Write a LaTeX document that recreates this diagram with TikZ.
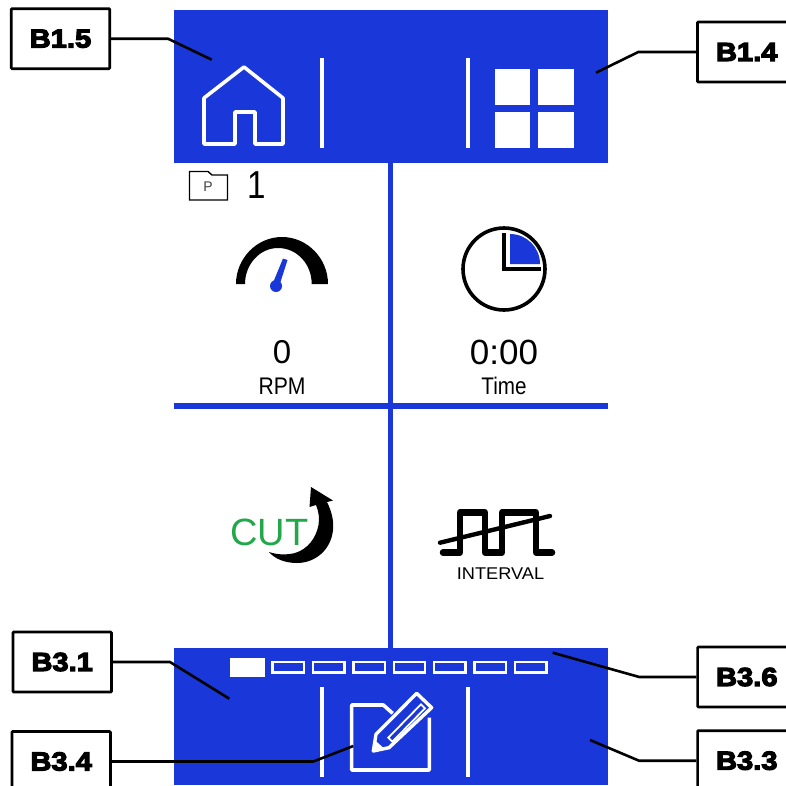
\documentclass[tikz,border=0pt]{standalone}
\usepackage{fontspec}
\setmainfont{Liberation Sans}
\newfontface\labfont[FakeBold=4.5,FakeStretch=1.12]{Liberation Sans Bold}
\definecolor{panelblue}{HTML}{1A37D9}
\definecolor{cutgreen}{HTML}{22A84A}
\newcommand{\fs}[1]{\fontsize{#1}{#1}\selectfont}
\tikzset{
  callout/.style={draw=black,fill=white,line width=2.6pt,minimum width=98.5pt,minimum height=60pt,inner sep=0pt,font=\labfont\fs{26},rounded corners=0.8pt},
  leader/.style={draw=black,line width=2.6pt,line join=round},
  divider/.style={draw=white,line width=3.2pt},
  iconline/.style={draw=white,line width=3.6pt,line join=round},
  slot/.style={draw=white,line width=2.4pt,line join=miter},
  txt/.style={inner sep=0pt,text=black},
}
\begin{document}
\begin{tikzpicture}[x=1pt,y=-1pt]
\useasboundingbox (0,0) rectangle (786,785);
\clip (0,0) rectangle (786,785);
\fill[white] (0,0) rectangle (786,785);
% grid lines
\fill[panelblue] (388.2,163) rectangle (393.2,649);
\fill[panelblue] (174,403.4) rectangle (608,408.8);
% panels
\fill[panelblue] (174,10) rectangle (608,162.8);
\fill[panelblue] (174,648.3) rectangle (608,785);
% top icons
\draw[iconline] (244,67) -- (283,98) -- (283,144) -- (255,144) -- (255,112) -- (235,112) -- (235,144) -- (204,144) -- (204,98) -- cycle;
\draw[divider] (322,58) -- (322,147.5);
\draw[divider] (468,58) -- (468,147.5);
\fill[white] (495,69) rectangle (530.3,105);
\fill[white] (538.3,69) rectangle (574,105);
\fill[white] (495,112) rectangle (530.3,148);
\fill[white] (538.3,112) rectangle (574,148);
% folder
\draw[black,line width=1.4pt,line join=miter] (189.5,171.5) -- (208,171.5) -- (212,175) -- (227.5,175) -- (227.5,200) -- (189.5,200) -- cycle;
\node[txt,font=\fs{14},text=black!75] (ptag) at (208,186.5) {P};
\node[txt,font=\fs{39},xscale=.85] (prognum) at (256.5,185.5) {1};
% gauge
\fill[black] (236,284) .. controls (236,258.6) and (256.6,237) .. (282,237) .. controls (307.4,237) and (328,258.6) .. (328,284) -- (311.7,284) .. controls (311.7,264) and (297,248) .. (278,248) .. controls (260,248) and (245,264) .. (245,284) -- cycle;
\fill[panelblue] (283,258.5) -- (287.5,260) -- (279.5,285) -- (272.5,284) -- cycle;
\fill[panelblue] (276,286) circle[radius=6pt];
\node[txt,font=\fs{33}] (rpmval) at (282,352) {0};
\node[txt,font=\fs{24},xscale=.88] (rpmlab) at (282,386) {RPM};
% clock
\draw[black,line width=3.6pt] (504,269) circle[radius=41pt];
\fill[panelblue] (510,264) -- (510,234) .. controls (526.6,234) and (540,247.4) .. (540,264) -- cycle;
\draw[black,line width=4pt,line join=miter] (504,233) -- (504,269) -- (541,269);
\node[txt,font=\fs{35}] (timeval) at (504,352) {0:00};
\node[txt,font=\fs{24},xscale=.86] (timelab) at (504,386) {Time};
% cut
\node[txt,font=\fs{38},text=cutgreen] (cutlab) at (269.5,532) {CUT};
\fill[black] (311,487) -- (333,500.5) -- (327,502) .. controls (332,512) and (334,522) .. (333,530) .. controls (331,550) and (315,563) .. (297,563) .. controls (285,563) and (275,559) .. (269,552) .. controls (278,555) and (287,555) .. (295,553) .. controls (308,549) and (316,538) .. (318.5,525) .. controls (319.5,519) and (319,512) .. (316,505) -- (309.5,507) -- cycle;
% interval
\draw[black,line width=6.5pt,line cap=round,line join=round] (443,552.5) -- (460,552.5) -- (460,512.5) -- (485,512.5) -- (485,552.5) -- (502,552.5) -- (502,512.5) -- (536,512.5) -- (536,552.5) -- (552,552.5);
\draw[black,line width=4.4pt,line cap=round] (440,542.7) -- (550,516);
\node[txt,font=\fs{17},xscale=1.07] (intlab) at (500.5,573.5) {INTERVAL};
% bottom bar
\fill[white] (230,658) rectangle (265,676.7);
\foreach \xa in {272.5,312.9,353.3,393.7,434.1,474.5,514.9}
  \draw[slot] (\xa,662) rectangle ({\xa+31.4},672.5);
\draw[divider] (322,687) -- (322,777);
\draw[divider] (468,687) -- (468,777);
% note and pencil
\begin{scope}[shift={(340,685)},x=0.3333pt,y=-0.3333pt]
  \draw[iconline] (158,85) -- (130,60) -- (35,60) -- (35,255) -- (268,255) -- (268,98);
  \draw[white,line width=3.4pt,line join=round] (230,25) -- (275,68) -- (147,188) -- (100,198) -- (108,148) -- cycle;
  \fill[white] (100,198) -- (104,165) -- (132,190) -- cycle;
  \draw[white,line width=1.8pt] (243,58) -- (255,70) -- (157,170) -- (145,158) -- cycle;
\end{scope}
% callouts
\node[callout] (b15) at (60.5,38.7) {B1.5};
\node[callout] (b14) at (746.7,52) {B1.4};
\node[callout] (b31) at (62.2,662) {B3.1};
\node[callout] (b34) at (61.2,761.5) {B3.4};
\node[callout] (b36) at (746.8,677) {B3.6};
\node[callout] (b33) at (746.8,760.7) {B3.3};
\coordinate (e15) at (211.7,59.7);
\coordinate (e14) at (596,72.7);
\coordinate (e31) at (229.3,698.7);
\coordinate (e34) at (353.3,746);
\coordinate (e36) at (552.7,652.7);
\coordinate (e33) at (590,740);
\draw[leader] (b15.east) -- (168,38.7) -- (e15);
\draw[leader] (b14.west) -- (638.3,52) -- (e14);
\draw[leader] (b31.east) -- (170,662) -- (e31);
\draw[leader] (b34.east) -- (313.3,761.5) -- (e34);
\draw[leader] (b36.west) -- (639.3,677) -- (e36);
\draw[leader] (b33.west) -- (639,760.7) -- (e33);
\end{tikzpicture}
\end{document}
